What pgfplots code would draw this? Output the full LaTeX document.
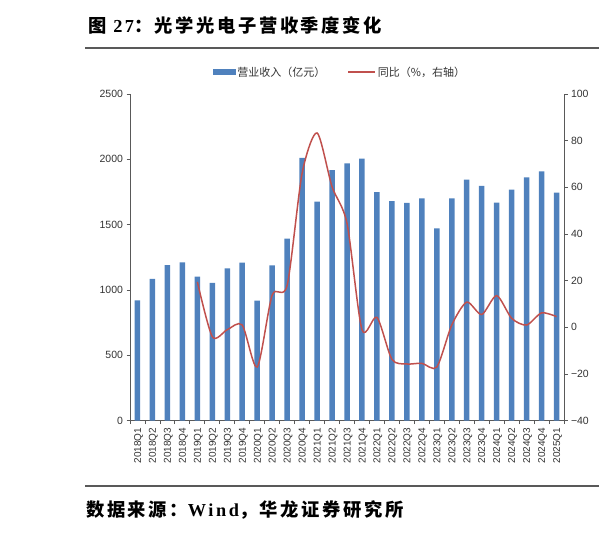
\documentclass[border=0pt]{standalone}
\usepackage{fontspec}
\setmainfont{Liberation Sans}
\newfontfamily\cjk{Noto Sans CJK SC}
\newfontfamily\cjkt{Noto Sans CJK SC}[LetterSpace=14]
\newfontfamily\tms{Liberation Serif}[LetterSpace=14]
\usepackage{pgfplots}
\usepackage{pgfplotstable}
\pgfplotsset{compat=1.18}
\definecolor{barblue}{HTML}{4F81BD}
\definecolor{linered}{HTML}{C0504D}
\definecolor{axgray}{HTML}{595959}
\definecolor{txtgray}{HTML}{333333}

\pgfplotstableread{
x val
0 920
1 1085
2 1190
3 1212
4 1102
5 1054
6 1166
7 1210
8 918
9 1188
10 1393
11 2012
12 1676
13 1918
14 1969
15 2005
16 1750
17 1681
18 1666
19 1702
20 1472
21 1702
22 1844
23 1796
24 1668
25 1768
26 1862
27 1908
28 1745
}\bars

\pgfplotstableread{
x yoy
4 19.5
5 -4
6 -1
7 1
8 -17
9 13.8
10 18
11 66
12 83.3
13 60.3
14 44.6
15 -1
16 4.3
17 -13.7
18 -15.7
19 -15.4
20 -17
21 1
22 10.8
23 5.5
24 13.6
25 3.9
26 1
27 6.2
28 4.6
}\yoy

\begin{document}
\begin{tikzpicture}
\useasboundingbox (0,0) rectangle (599bp,534bp);
% title and rules
\node[anchor=west, inner sep=0pt] at (88bp,509bp) {\fontsize{18.3bp}{20bp}\selectfont\bfseries\cjkt 图 {\tms 27}：光学光电子营收季度变化};
\draw[axgray, line width=1.3bp] (85bp,486bp) -- (599bp,486bp);
\draw[axgray, line width=1.3bp] (85bp,48bp) -- (599bp,48bp);
\node[anchor=west, inner sep=0pt] at (86bp,24bp) {\fontsize{18.3bp}{20bp}\selectfont\bfseries\cjkt 数据来源：{\tms Wind}，华龙证券研究所};

\begin{axis}[
  at={(130bp,113.3bp)}, anchor=south west,
  scale only axis, width=434bp, height=326.7bp,
  xmin=-0.5, xmax=28.5, ymin=0, ymax=2500,
  axis x line*=bottom, axis y line*=left,
  axis line style={draw=axgray, line width=0.9bp},
  tick align=outside, major tick length=3.5bp,
  every tick/.style={draw=axgray, line width=0.8bp},
  ytick={0,500,1000,1500,2000,2500},
  yticklabel style={font=\fontsize{10.5bp}{12bp}\selectfont, text=txtgray},
  /pgf/number format/1000 sep={},
  /pgf/number format/assume math mode=true,
  xtick={0,...,28},
  xticklabels={2018Q1,2018Q2,2018Q3,2018Q4,2019Q1,2019Q2,2019Q3,2019Q4,2020Q1,2020Q2,2020Q3,2020Q4,2021Q1,2021Q2,2021Q3,2021Q4,2022Q1,2022Q2,2022Q3,2022Q4,2023Q1,2023Q2,2023Q3,2023Q4,2024Q1,2024Q2,2024Q3,2024Q4,2025Q1},
  xtick style={draw=none},
  xticklabel style={rotate=90, anchor=east, font=\fontsize{10bp}{12bp}\selectfont, text=txtgray, yshift=-1bp},
  extra x ticks={-0.5,0.5,...,28.5},
  extra x tick labels={},
  extra x tick style={xtick style={draw=axgray, line width=0.8bp}},
  clip=false,
]
\addplot[ybar, bar width=5.5bp, fill=barblue, draw=none] table[x=x, y=val] {\bars};
\end{axis}

\begin{axis}[
  at={(130bp,113.3bp)}, anchor=south west,
  scale only axis, width=434bp, height=326.7bp,
  xmin=-0.5, xmax=28.5, ymin=-40, ymax=100,
  axis x line=none, axis y line*=right,
  axis line style={draw=axgray, line width=0.9bp},
  tick align=outside, major tick length=3.5bp,
  every tick/.style={draw=axgray, line width=0.8bp},
  ytick={-40,-20,0,20,40,60,80,100},
  yticklabels={−40,−20,0,20,40,60,80,100},
  yticklabel style={font=\fontsize{10.5bp}{12bp}\selectfont, text=txtgray},
  legend columns=2,
  legend style={draw=none, fill=none, at={(0.484,1.067)}, anchor=center,
    font=\cjk\fontsize{11bp}{13bp}\selectfont, text=txtgray,
    /tikz/every even column/.append style={column sep=20bp},
    inner sep=0pt},
  clip=false,
]
\addlegendimage{legend image code/.code={\fill[barblue] (0bp,-2.5bp) rectangle (22bp,2.5bp);}}
\addlegendentry{营业收入（亿元）}
\addplot[linered, line width=1.5bp, smooth, tension=0.45, no markers,
  legend image code/.code={\draw[linered, line width=1.5bp] (0bp,0bp) -- (27bp,0bp);}]
  table[x=x, y=yoy] {\yoy};
\addlegendentry{同比（\%，右轴）}
\end{axis}
\end{tikzpicture}
\end{document}
